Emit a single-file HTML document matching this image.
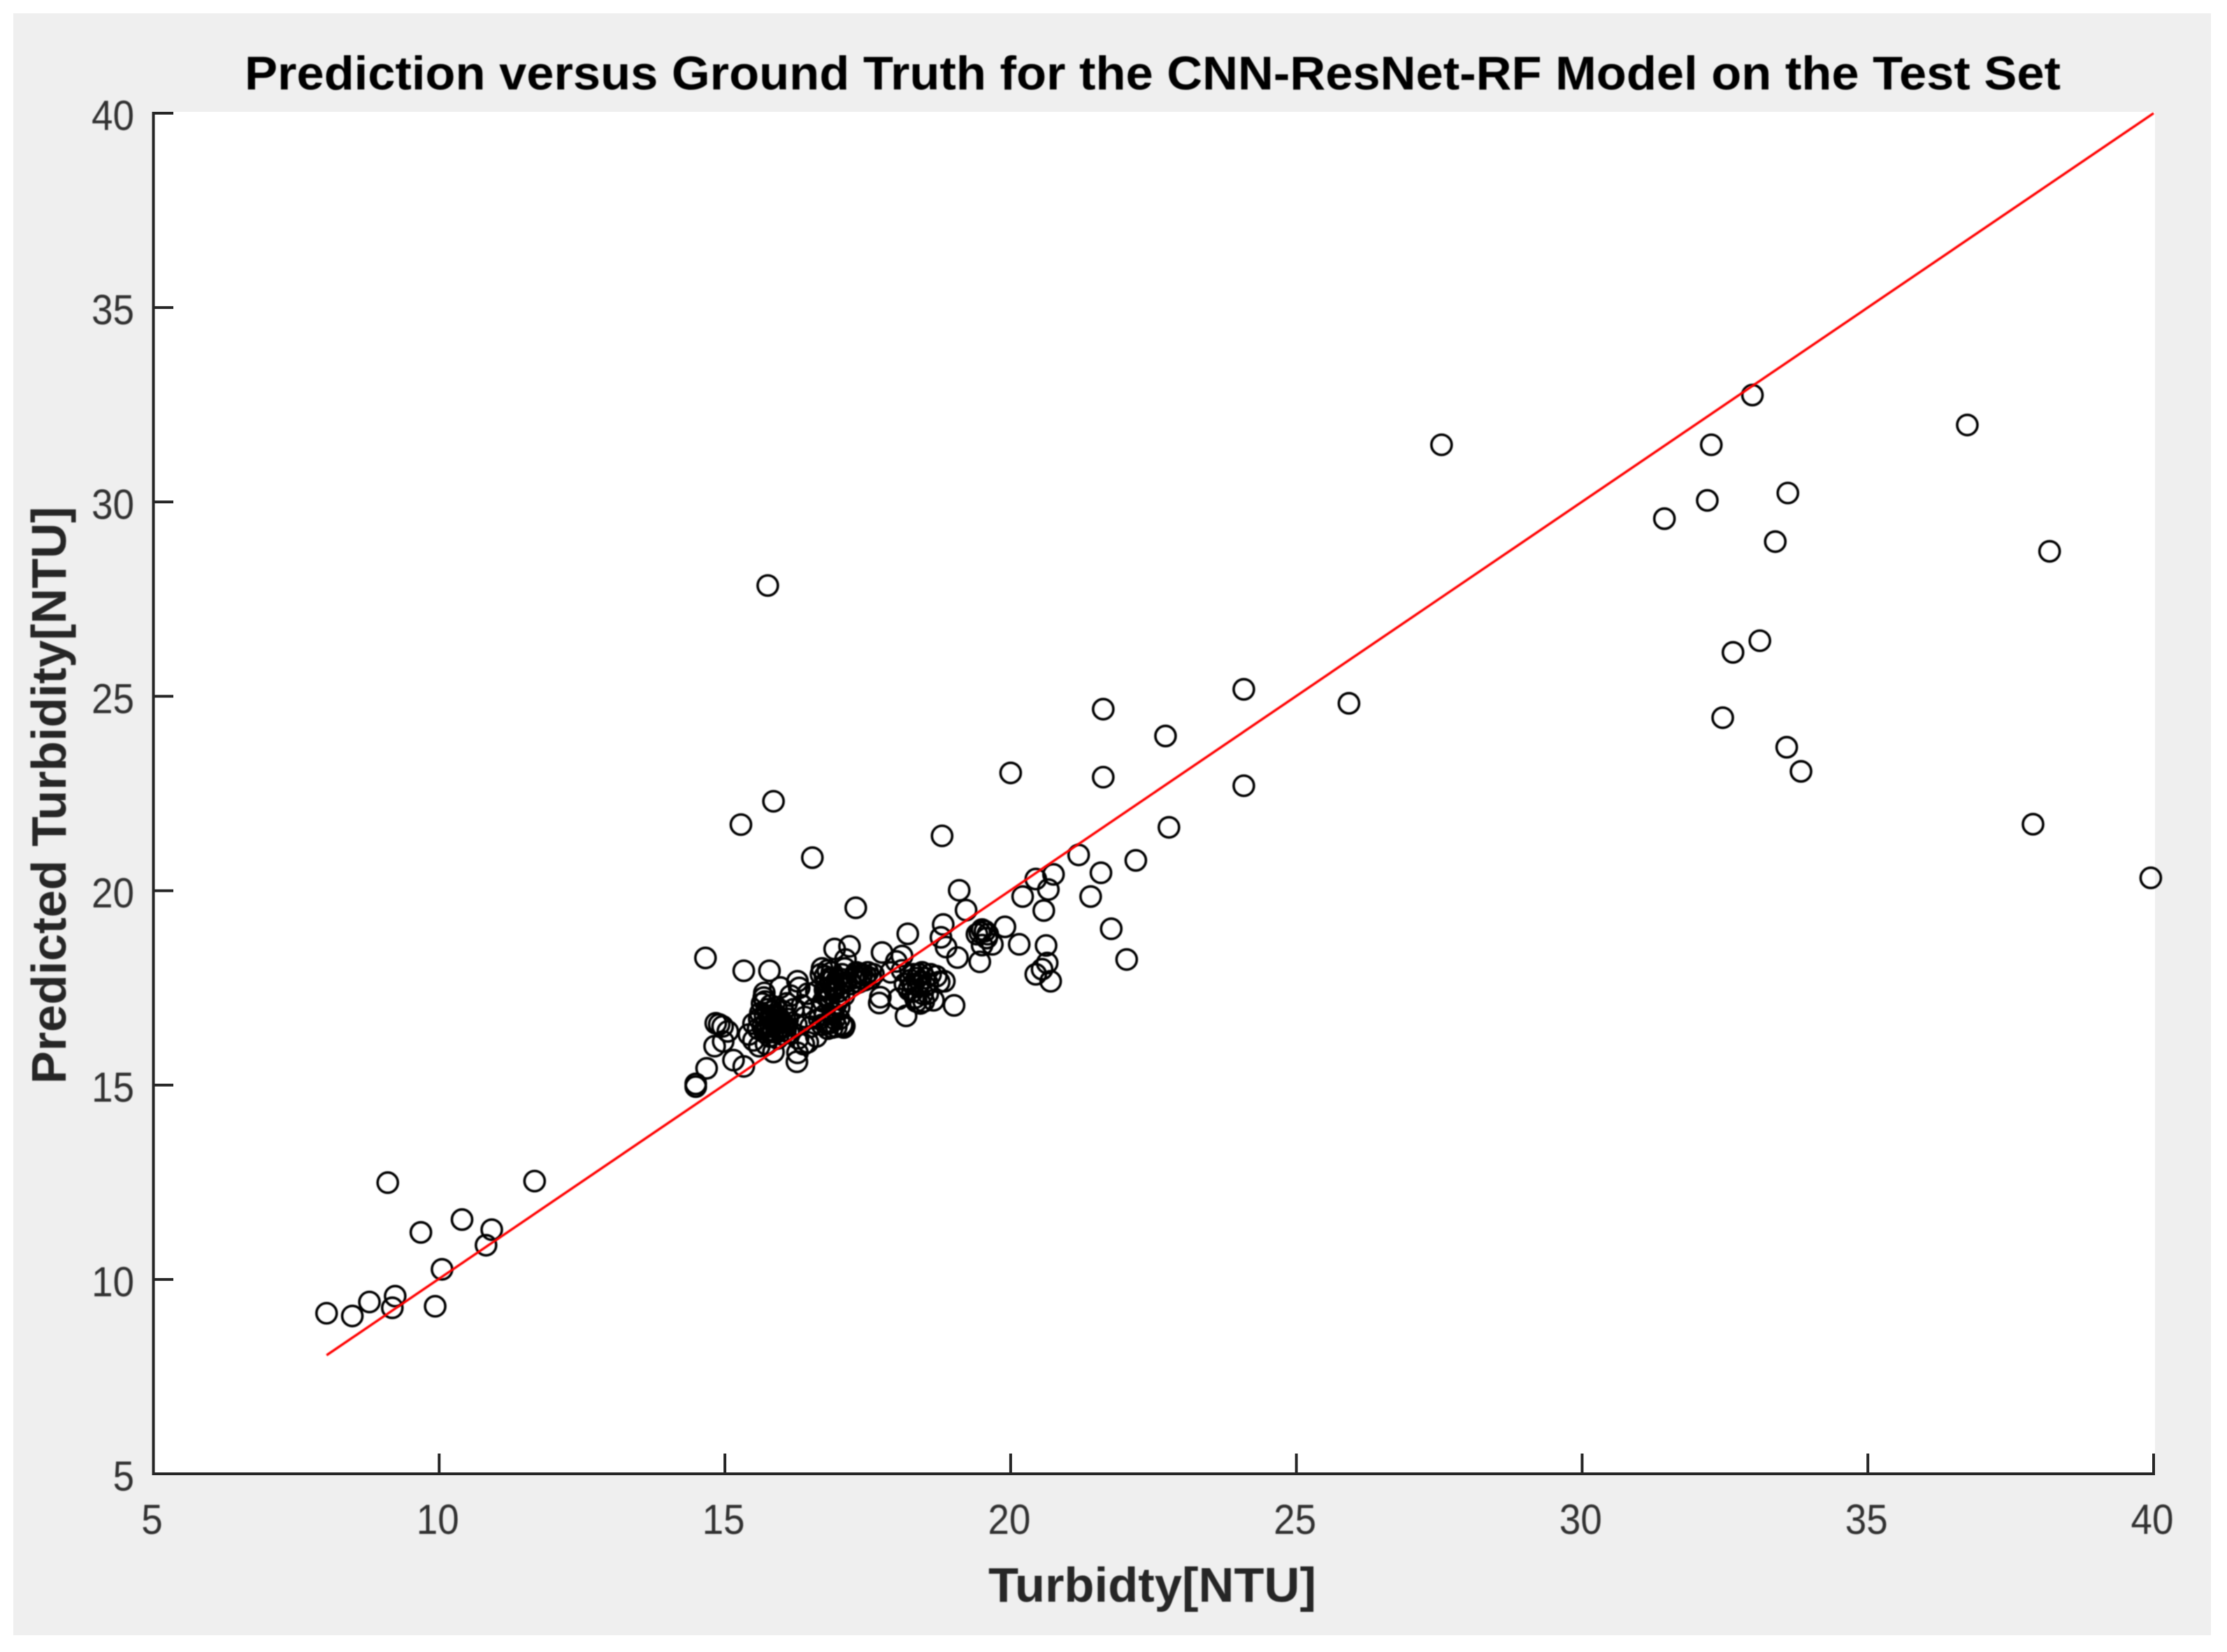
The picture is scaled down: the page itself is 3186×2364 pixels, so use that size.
<!DOCTYPE html>
<html lang="en">
<head>
<meta charset="utf-8">
<title>Prediction versus Ground Truth</title>
<style>
  html, body { margin: 0; padding: 0; background: #fff; }
  svg { display: block; font-family: "Liberation Sans", sans-serif; }
</style>
</head>
<body>
<svg id="chart" xmlns="http://www.w3.org/2000/svg" width="3186" height="2364" viewBox="0 0 3186 2364">
  <defs>
    <filter id="soft" x="-5%" y="-5%" width="110%" height="110%"><feGaussianBlur stdDeviation="0.7"/></filter>
  </defs>
  <rect x="19" y="19" width="3144" height="2321" fill="#efefef"/>
  <rect x="219" y="160" width="2864" height="1949" fill="#ffffff"/>
  <g id="markers" filter="url(#soft)"></g>
  <g id="fit" filter="url(#soft)"></g>
  <g id="axes"></g>
  <g filter="url(#soft)">
    <g id="ticklabels"></g>
    <text x="350" y="128" font-size="68" font-weight="bold" fill="#000" textLength="2598" lengthAdjust="spacingAndGlyphs">Prediction versus Ground Truth for the CNN-ResNet-RF Model on the Test Set</text>
    <text x="1414" y="2292" font-size="70" font-weight="bold" fill="#262626" textLength="469" lengthAdjust="spacingAndGlyphs">Turbidty[NTU]</text>
    <text transform="translate(94 1551) rotate(-90)" font-size="70" font-weight="bold" fill="#262626" textLength="826" lengthAdjust="spacingAndGlyphs">Predicted Turbidity[NTU]</text>
  </g>
</svg>
<script>
var xTicks = [5, 10, 15, 20, 25, 30, 35, 40];
var yTicks = [5, 10, 15, 20, 25, 30, 35, 40];
var lineX = [8.03, 40];
var lineY = [8.05, 40];
var truth = [
  8.03, 8.48, 8.78, 9.18, 9.23, 9.1, 9.68, 9.93, 10.05, 10.4, 10.82, 10.92, 11.67,
  27.54, 32.98, 32.26, 32.19, 31.44, 33.6, 33.38, 36.74, 38.18, 33.11, 32.64, 32.46, 33.58, 33.83, 37.89, 39.95,
  25.92, 24.08, 24.08, 21.62, 21.62, 22.71, 22.77, 20.0, 15.75, 15.85, 15.28, 16.53, 18.8, 17.29,
  21.19, 20.75, 20.44, 20.66, 20.21, 20.58, 21.4, 21.58, 22.19, 21.76, 22.03, 20.62, 20.64, 20.44, 20.7, 20.55, 20.15, 19.9,
  19.68, 19.5, 19.46, 19.1, 19.22, 18.82, 18.78, 18.87, 19.07, 19.46, 19.01, 19.41, 19.55, 19.6, 19.5, 19.58,
  14.49, 14.49, 14.68, 14.66, 14.84, 14.9, 14.96, 14.82, 14.97, 15.15, 15.33, 15.05, 15.33, 15.78, 16.27, 15.97, 15.69,
  15.42, 15.5, 15.5, 15.58, 15.62, 15.65, 15.68, 15.7, 15.72, 15.75, 15.78, 15.8, 15.82, 15.85, 15.88, 15.9, 15.92, 15.95, 15.98, 16.0, 16.02, 16.05, 16.08, 16.1, 16.12, 15.72, 15.6, 15.85,
  16.15, 16.2, 16.25, 16.28, 16.3, 16.35, 16.38, 16.4, 16.45, 16.26, 16.27, 16.45, 16.5, 16.55, 16.6, 16.6, 16.65, 16.68, 16.7,
  16.72, 16.75, 16.78, 16.8, 16.82, 16.85, 16.88, 16.9, 16.92, 16.95, 16.98, 17.0, 17.02, 17.05, 17.08, 17.1, 17.11, 17.18, 17.12,
  16.7, 16.75, 16.8, 16.85, 16.9, 16.95, 17.0, 17.05, 17.09, 17.08,
  17.25, 17.3, 17.35, 17.4, 17.45, 17.5, 17.55, 17.6, 17.2,
  17.75, 17.72, 17.7, 18.0, 18.1, 18.04, 17.9,
  18.2, 18.17, 18.22, 18.25, 18.3, 18.33, 18.38, 18.42, 18.45, 18.48, 18.5, 18.55, 18.6, 18.65, 18.7, 18.75, 18.84, 18.15, 18.1,
  15.6, 15.66, 15.7, 15.74, 15.78, 15.83, 15.87, 15.9, 15.94, 15.97, 16.02, 16.06, 15.8, 15.9, 15.7,
  16.75, 16.8, 16.84, 16.87, 16.92, 16.96, 16.76, 17.0,
  17.3, 17.38, 17.46, 17.34,
  16.82, 16.88, 16.92, 16.78,
  18.3, 18.36, 18.28, 18.42, 18.46, 18.35, 18.5, 18.4, 18.55
];
var predicted = [
  9.13, 9.06, 9.42, 9.27, 9.57, 12.49, 11.21, 9.31, 10.26, 11.54, 10.88, 11.28, 12.53,
  31.47, 32.75, 31.47, 30.04, 29.57, 30.23, 28.98, 31.98, 28.73, 26.43, 26.13, 24.45, 23.69, 23.07, 21.71, 20.33,
  24.82, 25.18, 22.7, 24.67, 22.92, 23.98, 21.63, 23.03, 27.85, 22.3, 21.7, 20.85, 21.41, 19.56,
  20.92, 20.42, 20.3, 20.03, 19.85, 19.49, 19.85, 20.46, 20.78, 19.02, 18.23, 18.59, 18.14, 17.85, 17.67, 17.98, 18.62, 19.07,
  18.62, 18.6, 18.17, 20.01, 19.5, 19.13, 18.8, 18.55, 18.28, 18.93, 17.05, 18.88, 18.96, 18.88, 19.0, 18.78,
  15.03, 14.96, 15.43, 18.27, 16.59, 16.56, 16.51, 16.0, 16.12, 15.64, 15.48, 16.38, 17.94, 17.94, 17.67, 17.51, 17.37,
  16.3, 16.15, 16.58, 16.45, 16.85, 17.1, 17.25, 16.35, 16.6, 16.95, 16.25, 16.5, 16.7, 16.4, 16.55, 16.8, 16.2, 16.45, 16.62, 16.3, 16.9, 16.5, 17.1, 16.7, 16.35, 16.05, 16.0, 15.85,
  17.3, 16.95, 16.55, 16.2, 17.5, 17.05, 16.05, 16.75, 17.35, 15.6, 15.83, 16.1, 16.5, 16.95, 17.4, 16.25, 16.7, 17.85, 18.0,
  17.15, 17.45, 17.65, 17.95, 17.2, 17.35, 17.55, 17.75, 18.5, 17.1, 17.4, 17.0, 17.6, 17.85, 17.3, 18.0, 18.23, 18.57, 17.65,
  16.55, 16.8, 16.45, 16.6, 16.85, 16.5, 16.7, 16.55, 16.52, 16.48,
  17.75, 17.9, 17.65, 17.85, 17.7, 17.9, 17.75, 17.85, 17.6,
  18.41, 17.26, 17.11, 18.18, 18.32, 17.22, 17.9,
  18.89, 16.78, 17.45, 17.7, 17.85, 17.25, 17.55, 17.1, 17.9, 17.15, 17.75, 17.35, 17.85, 17.18, 17.8, 17.65, 17.67, 17.6, 17.95,
  16.7, 16.5, 16.8, 16.4, 16.72, 16.9, 16.62, 16.35, 16.75, 16.5, 16.6, 16.4, 17.05, 17.0, 17.15,
  17.8, 17.5, 17.75, 17.9, 17.45, 17.7, 17.3, 17.25,
  17.78, 17.75, 17.82, 17.88,
  16.62, 16.48, 16.7, 16.58,
  17.6, 17.75, 17.4, 17.65, 17.35, 17.15, 17.55, 17.85, 17.6
];

var NS = 'http://www.w3.org/2000/svg';
function xScale(v) { return 219.5 + (v - 5) * (3081 - 219.5) / 35; }
function yScale(v) { return 2109 - (v - 5) * (2109 - 162) / 35; }
function make(tag, attrs, parent) {
  var el = document.createElementNS(NS, tag);
  for (var k in attrs) { el.setAttribute(k, attrs[k]); }
  parent.appendChild(el);
  return el;
}

var markerGroup = document.getElementById('markers');
truth.forEach(function (t, i) {
  var c = make('circle', { cx: xScale(t), cy: yScale(predicted[i]), r: 14.5, fill: 'none', stroke: '#000', 'stroke-width': 3.6 }, markerGroup);
  
  
});

var fitGroup = document.getElementById('fit');
var fitLine = make('line', { x1: xScale(lineX[0]), y1: yScale(lineY[0]), x2: xScale(lineX[1]), y2: yScale(lineY[1]), stroke: '#ff0000', 'stroke-width': 3.4 }, fitGroup);



var axesGroup = document.getElementById('axes');
var axisColor = '#262626';
var xAxisLine = make('line', { x1: 217.5, y1: yScale(yTicks[0]), x2: xScale(xTicks[xTicks.length - 1]) + 2, y2: yScale(yTicks[0]), stroke: axisColor, 'stroke-width': 4 }, axesGroup);


var yAxisLine = make('line', { x1: xScale(xTicks[0]), y1: yScale(yTicks[yTicks.length - 1]) - 2, x2: xScale(xTicks[0]), y2: 2111, stroke: axisColor, 'stroke-width': 4 }, axesGroup);



var labelGroup = document.getElementById('ticklabels');
function tickText(value, x, y, anchor) {
  var s = String(value);
  var t = make('text', { x: x, y: y, 'font-size': 60, fill: '#303030', 'text-anchor': anchor, textLength: s.length * 30.5, lengthAdjust: 'spacingAndGlyphs' }, labelGroup);
  t.textContent = s;
  return t;
}
xTicks.forEach(function (v) {
  var px = xScale(v);
  var tick = make('line', { x1: px, y1: 2109, x2: px, y2: 2080, stroke: axisColor, 'stroke-width': 4 }, axesGroup);
  
  
  var label = tickText(v, px - 2, 2195, 'middle');
  
  
});
yTicks.forEach(function (v) {
  var py = yScale(v);
  var tick = make('line', { x1: 219.5, y1: py, x2: 248, y2: py, stroke: axisColor, 'stroke-width': 4 }, axesGroup);
  
  
  var label = tickText(v, 192, py + 24, 'end');
  
  
});
</script>
</body>
</html>
